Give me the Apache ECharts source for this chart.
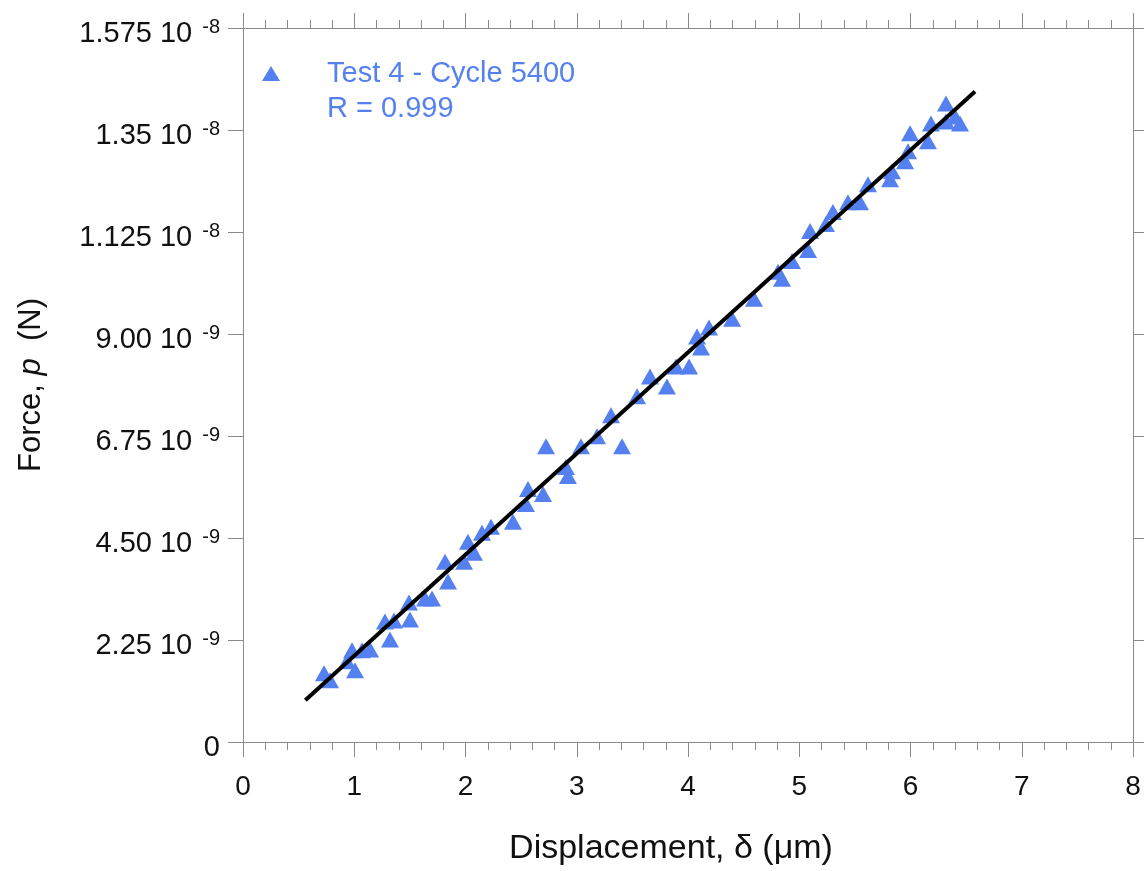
<!DOCTYPE html>
<html>
<head>
<meta charset="utf-8">
<script src="https://cdn.jsdelivr.net/npm/echarts@6/dist/echarts.min.js"></script>
<style>html,body{margin:0;padding:0;background:#fff}#c{width:1144px;height:871px}</style>
</head>
<body>
<div id="c"></div>
<script>
// Displacement (µm)
const dispX = [0.728,0.782,0.935,0.980,1.007,1.070,1.142,1.276,1.321,1.357,1.492,1.501,1.636,1.699,1.816,1.843,1.987,2.022,2.076,2.148,2.229,2.427,2.544,2.562,2.697,2.724,2.903,2.921,3.038,3.182,3.308,3.407,3.542,3.658,3.811,3.892,4.009,4.081,4.117,4.189,4.396,4.593,4.809,4.845,4.935,5.079,5.097,5.240,5.303,5.438,5.546,5.618,5.816,5.834,5.951,5.978,5.996,6.157,6.184,6.319,6.319,6.400,6.445];
// Force (units of 1e-9 N)
const forceY = [1.516,1.362,1.780,2.022,1.582,2.022,2.043,2.659,2.263,2.681,3.076,2.703,3.164,3.164,3.977,3.538,3.977,4.417,4.175,4.614,4.746,4.856,5.252,5.581,5.471,6.526,6.065,5.867,6.526,6.746,7.207,6.526,7.625,8.064,7.844,8.284,8.284,8.943,8.701,9.141,9.339,9.778,10.371,10.217,10.613,10.855,11.272,11.426,11.690,11.909,11.909,12.305,12.415,12.591,12.810,13.030,13.426,13.250,13.645,13.689,14.085,13.799,13.645];
// Linear fit endpoints
const fitX = [0.56, 6.58];
const fitY = [0.92, 14.35];
// Tick labels
const yMant = ['0','2.25','4.50','6.75','9.00','1.125','1.35','1.575'];
const yExp  = ['','-9','-9','-9','-9','-8','-8','-8'];
const xTicks = ['0','1','2','3','4','5','6','7','8'];
const seriesName = 'Test 4 - Cycle 5400';
const rText = 'R = 0.999';

const blue = '#5580f0';
const axisCol = '#8a8a8a';
const font = '"Liberation Sans", Arial, sans-serif';

const pts = dispX.map((x,i)=>[x, forceY[i]]);
const fit = fitX.map((x,i)=>[x, fitY[i]]);

const chart = echarts.init(document.getElementById('c'));
const axLine = {show:true, onZero:false, lineStyle:{color:axisCol, width:1}};
chart.setOption({
  animation:false,
  backgroundColor:'#fff',
  textStyle:{fontFamily:font},
  grid:{left:243, right:11, top:28, bottom:125, containLabel:false},
  legend:{
    data:[{name:seriesName, icon:'triangle'}],
    left:257, top:54, itemWidth:18, itemHeight:15,
    textStyle:{color:blue, fontSize:29, fontFamily:font, padding:[0,0,0,42]},
    selectedMode:false
  },
  graphic:[{type:'text', left:327, top:94, style:{text:rText, fill:blue, fontSize:29, fontFamily:font}}],
  xAxis:[{
    type:'value', min:0, max:8, interval:1, position:'bottom',
    name:'Displacement, δ (μm)', nameLocation:'middle', nameGap:90,
    nameTextStyle:{fontSize:34, color:'#111', fontFamily:font, padding:[0,34,0,0]},
    axisLine:axLine,
    axisTick:{show:true, inside:false, length:15, lineStyle:{color:axisCol}},
    minorTick:{show:true, splitNumber:5, length:8, lineStyle:{color:axisCol}},
    axisLabel:{fontSize:28, color:'#111', margin:31, formatter:v=>xTicks[Math.round(v)]},
    splitLine:{show:false}
  },{
    type:'value', min:0, max:8, interval:1, position:'top',
    axisLine:axLine,
    axisTick:{show:true, inside:false, length:15, lineStyle:{color:axisCol}},
    minorTick:{show:true, splitNumber:5, length:8, lineStyle:{color:axisCol}},
    axisLabel:{show:false}, splitLine:{show:false}
  }],
  yAxis:[{
    type:'value', min:0, max:15.75, interval:2.25, position:'left',
    name:'Force, {i|p}  (N)', nameLocation:'middle', nameGap:196, nameRotate:90,
    nameTextStyle:{fontSize:31, color:'#111', fontFamily:font,
      rich:{i:{fontSize:31, fontStyle:'italic', color:'#111', fontFamily:font}}},
    axisLine:axLine,
    axisTick:{show:true, inside:false, length:15, lineStyle:{color:axisCol}},
    axisLabel:{margin:23, color:'#111', padding:[12,0,0,0],
      formatter:function(v){
        const i=Math.round(v/2.25);
        if(!yExp[i]) return '{m|'+yMant[i]+'}';
        return '{m|'+yMant[i]+' 10}{e|'+yExp[i]+'}';
      },
      rich:{
        m:{fontSize:29, color:'#111', lineHeight:34, fontFamily:font},
        e:{fontSize:20, color:'#111', verticalAlign:'top', lineHeight:20, padding:[0,0,0,10], fontFamily:font}
      }
    },
    splitLine:{show:false}
  },{
    type:'value', min:0, max:15.75, interval:2.25, position:'right',
    axisLine:axLine,
    axisTick:{show:true, inside:false, length:12, lineStyle:{color:axisCol}},
    axisLabel:{show:false}, splitLine:{show:false}
  }],
  series:[{
    name:seriesName, type:'scatter', data:pts, symbol:'triangle', symbolSize:[18,16],
    itemStyle:{color:blue, opacity:1}, z:2
  },{
    name:'fit', type:'line', data:fit, symbol:'none', lineStyle:{color:'#000', width:4},
    z:3, silent:true
  }]
});
</script>
</body>
</html>
